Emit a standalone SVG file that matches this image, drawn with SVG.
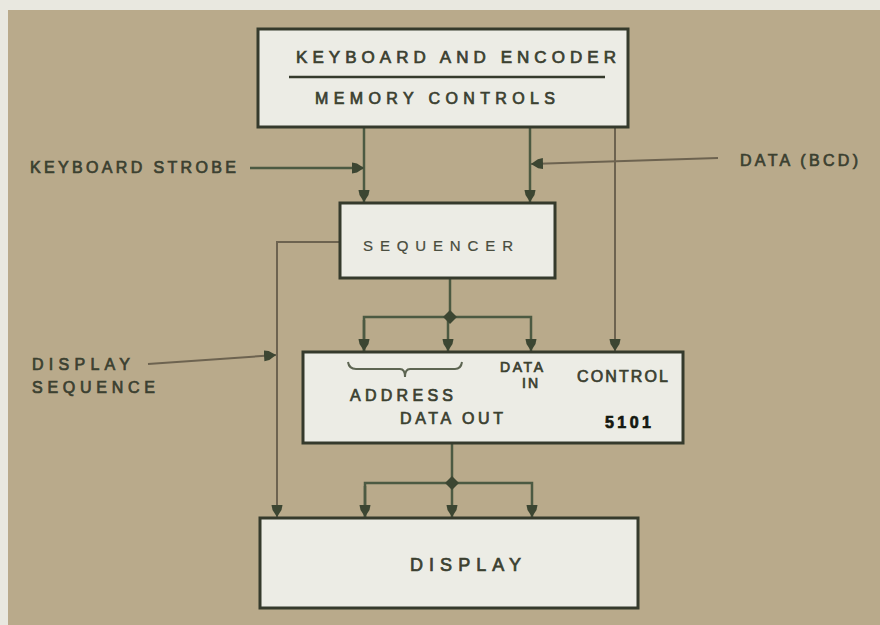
<svg xmlns="http://www.w3.org/2000/svg" width="880" height="625" viewBox="0 0 880 625">
<defs>
<marker id="arr" viewBox="0 0 12 12" refX="12" refY="6" markerWidth="12" markerHeight="12" markerUnits="userSpaceOnUse" orient="auto">
<path d="M0,0.5 L5,1.5 L12,6 L5,10.5 L0,11.5 Z" fill="#3c4632"/>
</marker>
<style>
.box{fill:#ececE5;stroke:#353a2c;stroke-width:3}
.ln{fill:none;stroke:#4c5a42;stroke-width:2.5}
.lb{fill:none;stroke:#6d6350;stroke-width:2}
.t{font-family:"Liberation Sans",Arial,sans-serif;fill:#3b4030;stroke:#3b4030;stroke-width:0.7;letter-spacing:2px}
.dot{fill:#3c4632}
</style>
</defs>
<rect x="0" y="0" width="880" height="625" fill="#e9e8e0"/>
<rect x="8" y="10" width="872" height="615" fill="#b9aa8b"/>

<g id="connectors">
<line class="ln" x1="364" y1="127" x2="364" y2="202" marker-end="url(#arr)"/>
<line class="ln" x1="530" y1="127" x2="530" y2="202" marker-end="url(#arr)"/>
<line class="lb" x1="615" y1="127" x2="615" y2="351" marker-end="url(#arr)"/>
<line class="ln" x1="250" y1="168" x2="364" y2="168" marker-end="url(#arr)"/>
<line class="lb" x1="718" y1="158" x2="531" y2="164" marker-end="url(#arr)"/>
<line class="ln" x1="450" y1="278" x2="450" y2="317"/>
<polyline class="ln" points="364,351 364,317 531,317 531,351" marker-end="url(#arr)"/>
<line class="ln" x1="364" y1="320" x2="364" y2="351" marker-end="url(#arr)"/>
<line class="ln" x1="448" y1="317" x2="448" y2="351" marker-end="url(#arr)"/>
<path class="dot" d="M450,310 L457,317 L450,324 L443,317 Z"/>
<polyline class="lb" points="340,242 277,242 277,517" marker-end="url(#arr)"/>
<line class="lb" x1="148" y1="364" x2="276" y2="355" marker-end="url(#arr)"/>
<line class="ln" x1="452" y1="443" x2="452" y2="483"/>
<polyline class="ln" points="365,517 365,483 532,483 532,517" marker-end="url(#arr)"/>
<line class="ln" x1="365" y1="486" x2="365" y2="517" marker-end="url(#arr)"/>
<line class="ln" x1="452" y1="483" x2="452" y2="517" marker-end="url(#arr)"/>
<path class="dot" d="M452,476 L459,483 L452,490 L445,483 Z"/>
</g>

<g id="keyboard">
<rect class="box" x="258" y="29" width="370" height="98"/>
<line x1="289" y1="77" x2="605" y2="77" stroke="#353a2c" stroke-width="2.5"/>
<text class="t" x="296" y="63" font-size="17" textLength="322" lengthAdjust="spacing">KEYBOARD AND ENCODER</text>
<text class="t" x="315" y="104" font-size="16" textLength="242" lengthAdjust="spacing">MEMORY CONTROLS</text>
</g>

<g id="labels">
<text class="t" x="30" y="173" font-size="16" textLength="208" lengthAdjust="spacing">KEYBOARD STROBE</text>
<text class="t" x="740" y="166" font-size="16" textLength="120" lengthAdjust="spacing">DATA (BCD)</text>
<text class="t" x="32" y="370" font-size="16" textLength="100" lengthAdjust="spacing">DISPLAY</text>
<text class="t" x="32" y="393" font-size="16" textLength="125" lengthAdjust="spacing">SEQUENCE</text>
</g>

<g id="sequencer">
<rect class="box" x="340" y="203" width="215" height="75"/>
<text class="t" x="363" y="251" font-size="15" textLength="152" lengthAdjust="spacing" style="fill:#4a4e40;stroke-width:0.2">SEQUENCER</text>
</g>

<g id="ram5101">
<rect class="box" x="303" y="352" width="380" height="91"/>
<path d="M348,362 Q349,369 356,369 L400,369 Q405,369 405,377 Q405,369 410,369 L455,369 Q461,369 462,362" fill="none" stroke="#5d6552" stroke-width="2"/>
<text class="t" x="350" y="401" font-size="16" textLength="105" lengthAdjust="spacing">ADDRESS</text>
<text class="t" x="500" y="372" font-size="14" textLength="45" lengthAdjust="spacing">DATA</text>
<text class="t" x="522" y="388" font-size="14" textLength="18" lengthAdjust="spacing">IN</text>
<text class="t" x="577" y="382" font-size="16" textLength="93" lengthAdjust="spacing">CONTROL</text>
<text class="t" x="400" y="424" font-size="16" textLength="105" lengthAdjust="spacing">DATA OUT</text>
<text class="t" x="605" y="428" font-size="16" font-weight="bold" style="fill:#141810;stroke:#141810" textLength="48" lengthAdjust="spacing">5101</text>
</g>

<g id="display">
<rect class="box" x="260" y="518" width="378" height="90"/>
<text class="t" x="410" y="571" font-size="18" textLength="113" lengthAdjust="spacing">DISPLAY</text>
</g>
</svg>
